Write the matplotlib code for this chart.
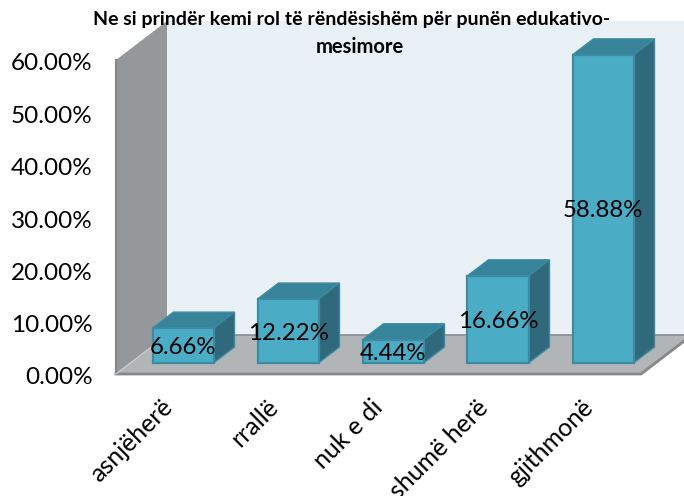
import matplotlib.pyplot as plt
from matplotlib.patches import Polygon
from matplotlib.transforms import ScaledTranslation

categories = ["asnjëherë", "rrallë", "nuk e di", "shumë herë", "gjithmonë"]
values = [6.66, 12.22, 4.44, 16.66, 58.88]
yticks = [0, 10, 20, 30, 40, 50, 60]
title_lines = ["Ne si prindër kemi rol të rëndësishëm për punën edukativo-", "mesimore"]

W, H = 684, 496
plt.rcParams["font.family"] = ["Lato", "DejaVu Sans"]

fig = plt.figure(figsize=(W / 100, H / 100), dpi=100)
# axes box = front edge of the fake 3d floor, in pixels
left, right, top, bottom = 116, 641, 60, 374
ax = fig.add_axes([left / W, 1 - bottom / H, (right - left) / W, (bottom - top) / H])
ax.set_xlim(-0.5, 4.5)
ax.set_ylim(0, 60)
for s in ax.spines.values():
    s.set_visible(False)
ax.patch.set_visible(False)

# depth of the walls and of the bars, in data units
px_x = 5 / (right - left)
px_y = 60 / (bottom - top)
wall_dx, wall_dy = 51 * px_x, 39 * px_y
off_x, off_y = 14.5 * px_x, 11 * px_y
bar_dx, bar_dy = 21 * px_x, 16 * px_y
width = 61 * px_x


def face(pts, color, edge=None, lw=0.0, z=1):
    ax.add_patch(Polygon(pts, closed=True, facecolor=color, edgecolor=edge or color,
                         linewidth=lw, zorder=z, clip_on=False))


x0, x1 = -0.5, 4.5
# back wall, left wall, floor
face([(x0 + wall_dx, wall_dy), (x1 + wall_dx, wall_dy), (x1 + wall_dx, 60 + wall_dy), (x0 + wall_dx, 60 + wall_dy)],
     "#e9f0f6", z=1)
face([(x0, 0), (x0 + wall_dx, wall_dy), (x0 + wall_dx, 60 + wall_dy), (x0, 60)], "#94989a", z=2)
face([(x0, 0), (x1, 0), (x1 + wall_dx, wall_dy), (x0 + wall_dx, wall_dy)], "#b2b5b8", z=2)
ax.plot([x0 + wall_dx, x1 + wall_dx], [wall_dy, wall_dy], color="#8a8c8e", lw=1.2, zorder=3, clip_on=False)
ax.plot([x0, x1, x1 + wall_dx], [0, 0, wall_dy], color="#858789", lw=2, zorder=3, clip_on=False,
        solid_joinstyle="miter")
ax.plot([x0, x0], [0, 60], color="#858789", lw=1.5, zorder=3, clip_on=False)
ax.plot([x0, x0 + wall_dx], [0, wall_dy], color="#c9cbcd", lw=1, zorder=3, clip_on=False)

# bars
xs = [i + off_x for i in range(len(values))]
bars = ax.bar(xs, values, width=width, bottom=off_y, color="#4bacc6", edgecolor="#3d8ba2", linewidth=1.6, zorder=5)
for b in bars:
    b.set_clip_on(False)
down = ScaledTranslation(0, -2 / 100, fig.dpi_scale_trans)
for x, v in zip(xs, values):
    xl, xr = x - width / 2, x + width / 2
    yb, yt = off_y, off_y + v
    face([(xl, yt), (xr, yt), (xr + bar_dx, yt + bar_dy), (xl + bar_dx, yt + bar_dy)],
         "#37839a", "#3d8ba2", 1.0, 4)
    face([(xr, yb), (xr + bar_dx, yb + bar_dy), (xr + bar_dx, yt + bar_dy), (xr, yt)],
         "#31697c", "#3d8ba2", 1.0, 4)
    ax.text(x, off_y + v / 2, f"{v:.2f}%", ha="center", va="center", fontsize=17.3, color="black", zorder=6,
            transform=ax.transData + down)

ax.set_yticks(yticks)
ax.set_yticklabels([f"{t:.2f}%" for t in yticks], fontsize=17.5, color="black")
ax.set_xticks(xs)
ax.set_xticklabels(categories, rotation=45, ha="right", rotation_mode="anchor", fontsize=18, color="black")
ax.tick_params(axis="y", length=0, pad=17)
ax.tick_params(axis="x", length=0, pad=14)
for lab in ax.get_yticklabels():
    lab.set_transform(lab.get_transform() + down)
shift = ScaledTranslation(-22 / 100, -2 / 100, fig.dpi_scale_trans)
for lab in ax.get_xticklabels():
    lab.set_transform(lab.get_transform() + shift)

fig.text(351.5 / W, 1 - 20 / H, title_lines[0], ha="center", va="center", fontsize=14, fontweight="bold",
         color="black", zorder=10)
fig.text(359.5 / W, 1 - 47 / H, title_lines[1], ha="center", va="center", fontsize=14.5, fontweight="bold",
         color="black", zorder=10)

fig.savefig("out.png", dpi=100)
